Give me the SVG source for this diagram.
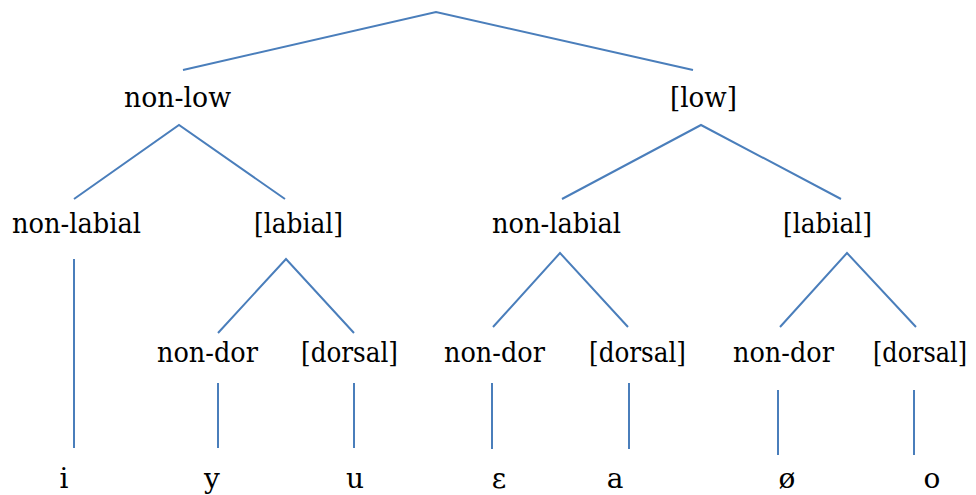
<svg xmlns="http://www.w3.org/2000/svg" width="976" height="495" viewBox="0 0 976 495">
<style>
  .e { stroke: #4A7EBB; stroke-width: 2; fill: none; stroke-linejoin: miter; }
  .t { font-family: 'DejaVu Serif', serif; font-size: 28px; fill: #000; }
  .c { text-anchor: middle; }
</style>
<rect width="976" height="495" fill="#fff"/>
<g id="connectors">
  <polyline class="e" points="183,70 436,12 693,70"/>
  <polyline class="e" points="74,199 179,125 285,199"/>
  <polyline class="e" points="562,199 701,125 841,199"/>
  <line class="e" x1="74" y1="259" x2="74" y2="448"/>
  <polyline class="e" points="218,333 286,259 354,333"/>
  <polyline class="e" points="493,327 560,253 628,327"/>
  <polyline class="e" points="780,327 847,253 916,327"/>
  <line class="e" x1="218" y1="383" x2="218" y2="448"/>
  <line class="e" x1="354" y1="383" x2="354" y2="448"/>
  <line class="e" x1="492" y1="383" x2="492" y2="449"/>
  <line class="e" x1="629" y1="383" x2="629" y2="449"/>
  <line class="e" x1="778" y1="390" x2="778" y2="455"/>
  <line class="e" x1="914" y1="390" x2="914" y2="455"/>
</g>
<g id="n-nonlow"><text class="t" x="124" y="107" textLength="107" lengthAdjust="spacingAndGlyphs">non-low</text></g>
<g id="n-low"><text class="t" x="670" y="107" textLength="67" lengthAdjust="spacingAndGlyphs">[low]</text></g>
<g id="n-nonlabial1"><text class="t" x="12" y="233" textLength="129" lengthAdjust="spacingAndGlyphs">non-labial</text></g>
<g id="n-labial1"><text class="t" x="254" y="233" textLength="89" lengthAdjust="spacingAndGlyphs">[labial]</text></g>
<g id="n-nonlabial2"><text class="t" x="492" y="233" textLength="129" lengthAdjust="spacingAndGlyphs">non-labial</text></g>
<g id="n-labial2"><text class="t" x="783" y="233" textLength="89" lengthAdjust="spacingAndGlyphs">[labial]</text></g>
<g id="n-nondor1"><text class="t" x="157" y="362" textLength="101" lengthAdjust="spacingAndGlyphs">non-dor</text></g>
<g id="n-dorsal1"><text class="t" x="301" y="362" textLength="97" lengthAdjust="spacingAndGlyphs">[dorsal]</text></g>
<g id="n-nondor2"><text class="t" x="444" y="362" textLength="101" lengthAdjust="spacingAndGlyphs">non-dor</text></g>
<g id="n-dorsal2"><text class="t" x="589" y="362" textLength="97" lengthAdjust="spacingAndGlyphs">[dorsal]</text></g>
<g id="n-nondor3"><text class="t" x="733" y="362" textLength="101" lengthAdjust="spacingAndGlyphs">non-dor</text></g>
<g id="n-dorsal3"><text class="t" x="873" y="362" textLength="94" lengthAdjust="spacingAndGlyphs">[dorsal]</text></g>
<g id="n-i"><text class="t c" x="64" y="488">i</text></g>
<g id="n-y"><text class="t c" x="212" y="488">y</text></g>
<g id="n-u"><text class="t c" x="355" y="488">u</text></g>
<g id="n-eps"><text class="t c" x="499" y="488">ε</text></g>
<g id="n-a"><text class="t c" x="615" y="488">a</text></g>
<g id="n-oslash"><text class="t c" x="787" y="488">ø</text></g>
<g id="n-o"><text class="t c" x="932" y="488">o</text></g>
</svg>
